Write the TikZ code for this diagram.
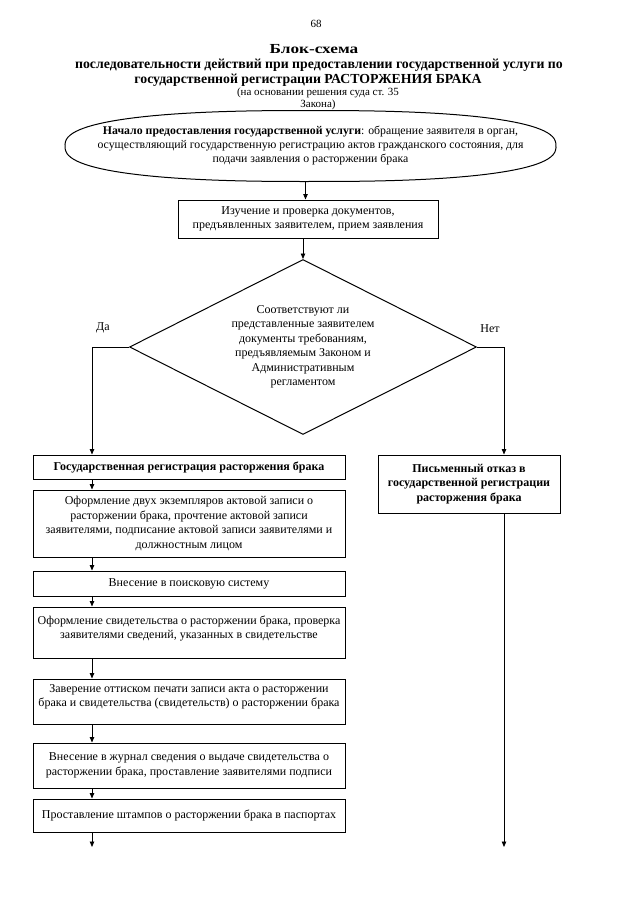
\documentclass[tikz,border=0pt]{standalone}
\usepackage{fontspec}
\setmainfont{Liberation Serif}
\usetikzlibrary{shapes.geometric,arrows.meta}
\newcommand\myfs{\fontsize{12}{14.5}\selectfont}
\newcommand\myell{\fontsize{11.8}{14}\selectfont}
\newcommand\mysmall{\fontsize{11}{13}\selectfont}
\newcommand\mytitle{\fontsize{13.8}{15}\selectfont\bfseries}
\begin{document}
\begin{tikzpicture}[x=1pt,y=-1pt,
  box/.style={draw, line width=1pt, align=center, inner xsep=2pt, inner ysep=1pt, font=\myfs},
  plain/.style={align=center, inner sep=0pt, font=\myfs},
  ar/.style={-{Triangle[length=5.5pt,width=4.5pt]}, line width=0.75pt},
  ln/.style={line width=0.75pt}]
\useasboundingbox (0,0) rectangle (640,905);
% title
\node[plain, font=\mysmall] (pg) at (316,24) {68};
\node[plain, font=\mytitle] (t1) at (314,49) {\scalebox{1.25}[1]{Блок-схема}};
\node[plain, font=\mytitle] (t2) at (319,65) {последовательности действий при предоставлении государственной услуги по};
\node[plain, font=\mytitle] (t3) at (308,80) {государственной регистрации РАСТОРЖЕНИЯ БРАКА};
\node[plain, font=\mysmall] (t4) at (318,93) {(на основании решения суда ст. 35};
\node[plain, font=\mysmall] (t5) at (318,105) {Закона)};
% start (flattened ellipse)
\node[align=center, inner sep=0pt, font=\myell, minimum width=491, minimum height=71] (start) at (310.5,146) {\textbf{Начало предоставления государственной услуги}: обращение заявителя в орган,\\осуществляющий государственную регистрацию актов гражданского состояния, для\\подачи заявления о расторжении брака};
\draw[line width=1pt, shift={(start.center)}] plot[domain=1:361, samples=121, variable=\t]
  ({245.5*sign(cos(\t))*abs(cos(\t))^(0.8)}, {35.5*sign(sin(\t))*abs(sin(\t))^(0.8)}) -- cycle;
% check box
\node[box, minimum width=260, minimum height=38] (chk) at (308,219) {Изучение и проверка документов,\\предъявленных заявителем, прием заявления};
% diamond
\node[draw, diamond, aspect=2, line width=1pt, minimum width=347, minimum height=175, inner sep=0pt, align=center, font=\myfs] (dia) at (303,347) {Соответствуют ли\\представленные заявителем\\документы требованиям,\\предъявляемым Законом и\\Административным\\регламентом};
\node[plain] (yes) at (103,328) {Да};
\node[plain] (no) at (490,329) {Нет};
% left column
\node[box, minimum width=312, minimum height=24] (b1) at (189,467) {\textbf{Государственная регистрация расторжения брака}};
\node[box, minimum width=312, minimum height=67] (b2) at (189,523.5) {Оформление двух экземпляров актовой записи о\\расторжении брака, прочтение актовой записи\\заявителями, подписание актовой записи заявителями и\\должностным лицом};
\node[box, minimum width=312, minimum height=25] (b3) at (189,583.5) {Внесение в поисковую систему};
\node[box, minimum width=312, minimum height=51] (b4) at (189,632.5) {Оформление свидетельства о расторжении брака, проверка\\заявителями сведений, указанных в свидетельстве\rule[-10.5pt]{0pt}{10.5pt}};
\node[box, minimum width=312, minimum height=45] (b5) at (189,701.5) {Заверение оттиском печати записи акта о расторжении\\брака и свидетельства (свидетельств) о расторжении брака\rule[-12pt]{0pt}{12pt}};
\node[box, minimum width=312, minimum height=45] (b6) at (189,765.5) {Внесение в журнал сведения о выдаче свидетельства о\\расторжении брака, проставление заявителями подписи};
\node[box, minimum width=312, minimum height=33] (b7) at (189,815.5) {Проставление штампов о расторжении брака в паспортах};
% right column
\node[box, minimum width=182, minimum height=58, font=\myfs\bfseries] (rb) at (469,484) {Письменный отказ в\\государственной регистрации\\расторжения брака};
% connectors
\coordinate (lt) at (92,347);
\coordinate (rt) at (504,347);
\coordinate (lend) at (92,847);
\coordinate (rend) at (504,847);
\draw[ar] ([xshift=-5pt]start.south) -- ([xshift=-5pt]start.south |- chk.north);
\draw[ar] (chk.south -| dia.north) -- (dia.north);
\draw[ln] (dia.west) -- (lt);
\draw[ar] (lt) -- (lt |- b1.north);
\draw[ar] (b1.south -| lt) -- (b2.north -| lt);
\draw[ar] (b2.south -| lt) -- (b3.north -| lt);
\draw[ar] (b3.south -| lt) -- (b4.north -| lt);
\draw[ar] (b4.south -| lt) -- (b5.north -| lt);
\draw[ar] (b5.south -| lt) -- (b6.north -| lt);
\draw[ar] (b6.south -| lt) -- (b7.north -| lt);
\draw[ar] (b7.south -| lt) -- (lend);
\draw[ln] (dia.east) -- (rt);
\draw[ar] (rt) -- (rt |- rb.north);
\draw[ar] (rb.south -| rt) -- (rend);
\end{tikzpicture}
\end{document}
